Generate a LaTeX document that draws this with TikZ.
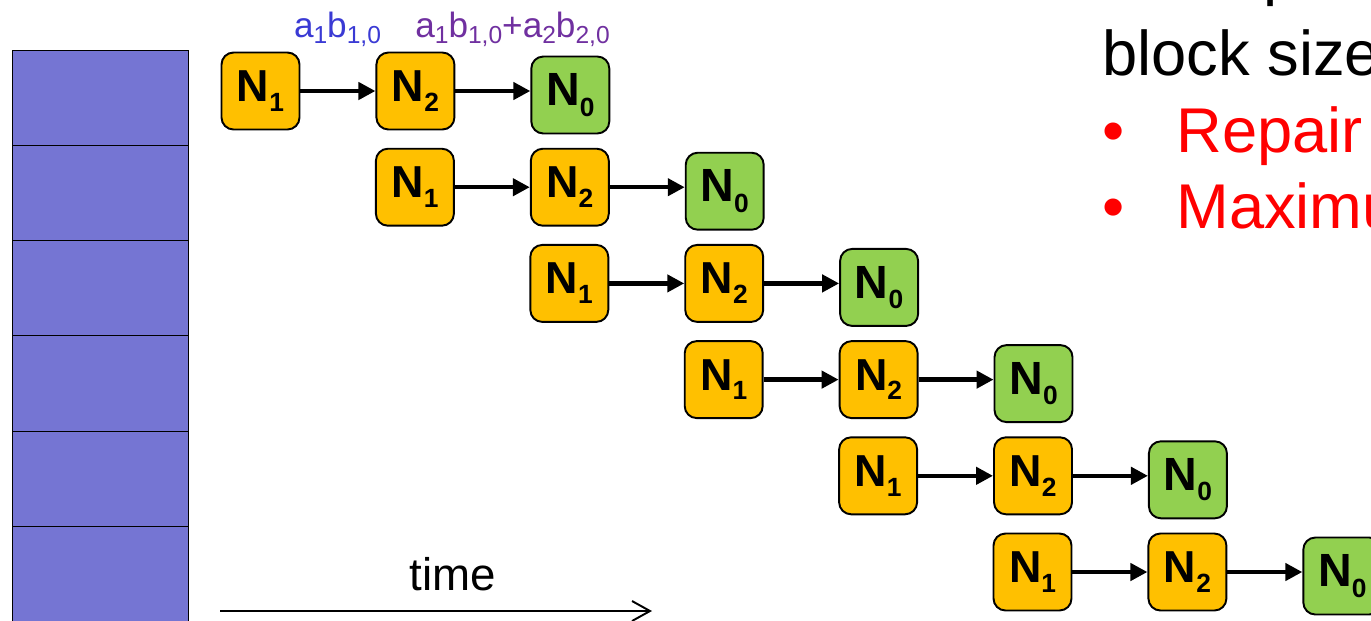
\documentclass[tikz,border=0pt]{standalone}
\usepackage{fontspec}
\setmainfont{Liberation Sans}
\usetikzlibrary{positioning}
\usetikzlibrary{arrows.meta}

\definecolor{stackblue}{RGB}{117,117,211}
\definecolor{helperorange}{RGB}{255,192,0}
\definecolor{targetgreen}{RGB}{146,208,80}
\definecolor{labelblue}{RGB}{58,58,212}
\definecolor{labelpurple}{RGB}{112,48,160}

% lowered subscripts in text font
\newcommand{\nsub}[1]{\raisebox{-0.22em}{\fontsize{15}{15}\selectfont #1}}
\newcommand{\lsub}[1]{\raisebox{-0.18em}{\fontsize{14}{14}\selectfont #1}}

\tikzset{
    helper/.style={draw, line width=1.1pt, rounded corners=0.24cm, fill=helperorange,
        minimum width=1.56cm, minimum height=1.54cm, inner sep=0pt,
        font=\fontsize{25.5}{25.5}\selectfont\bfseries},
    target/.style={helper, fill=targetgreen, font=\fontsize{26.5}{26.5}\selectfont\bfseries},
    pipe/.style={line width=2.6pt, -{Triangle[length=0.34cm,width=0.34cm]}},
    slide/.style={inner sep=0pt, anchor=base west, font=\fontsize{36}{36}\selectfont},
}

\begin{document}
\begin{tikzpicture}[x=0.02cm, y=-0.02cm]
    \useasboundingbox (0,0) rectangle (1371,620);
    \clip (0,0) rectangle (1371,620);

    % block stack
    \foreach \k in {0,...,5}
        \draw[fill=stackblue, line width=0.5pt] (12,{50+95.3*\k}) rectangle (188,{145.3+95.3*\k});

    % one pipeline per block
    \foreach \r in {0,...,5}{
        \node[helper] (n1-\r) at ({260.5+154.4*\r},{91+96.2*\r}) {N\nsub{1}};
        \node[helper, right=1.5cm of n1-\r] (n2-\r) {N\nsub{2}};
        \node[target, right=1.5cm of n2-\r, yshift=-0.08cm] (n0-\r) {N\nsub{0}};

        \draw[pipe] (n1-\r) -- (n2-\r);
        \draw[pipe] (n2-\r.east) -- (n2-\r.east -| n0-\r.west);
    }

    \node[anchor=base, inner sep=0pt, text=labelblue, font=\fontsize{20}{20}\selectfont] (lbl-one) at (337.5,37) {a\lsub{1}b\lsub{1,0}};
    \node[anchor=base, inner sep=0pt, text=labelpurple, font=\fontsize{20}{20}\selectfont] (lbl-two) at (512.5,37) {a\lsub{1}b\lsub{1,0}+a\lsub{2}b\lsub{2,0}};

    % time axis
    \coordinate (t-start) at (220,611);
    \coordinate (t-end) at (652,611);
    \draw[line width=1.1pt, -{Straight Barb[length=0.36cm,width=0.4cm]}] (t-start) -- (t-end);
    \node[anchor=base, inner sep=0pt, font=\fontsize{26}{26}\selectfont] (time) at (453,590) {time};

    % text on the right
    \node[slide] (top) at (1263,-7) {p};
    \node[slide] (blk) at (1102,75) {block size};
    \node[slide, text=red] (b-one) at (1102,152) {\textbullet};
    \node[slide, text=red] (repair) at (1176,152) {Repair};
    \node[slide, text=red] (b-two) at (1102,228) {\textbullet};
    \node[slide, text=red] (maxi) at (1176,228) {Maximu};
\end{tikzpicture}
\end{document}
